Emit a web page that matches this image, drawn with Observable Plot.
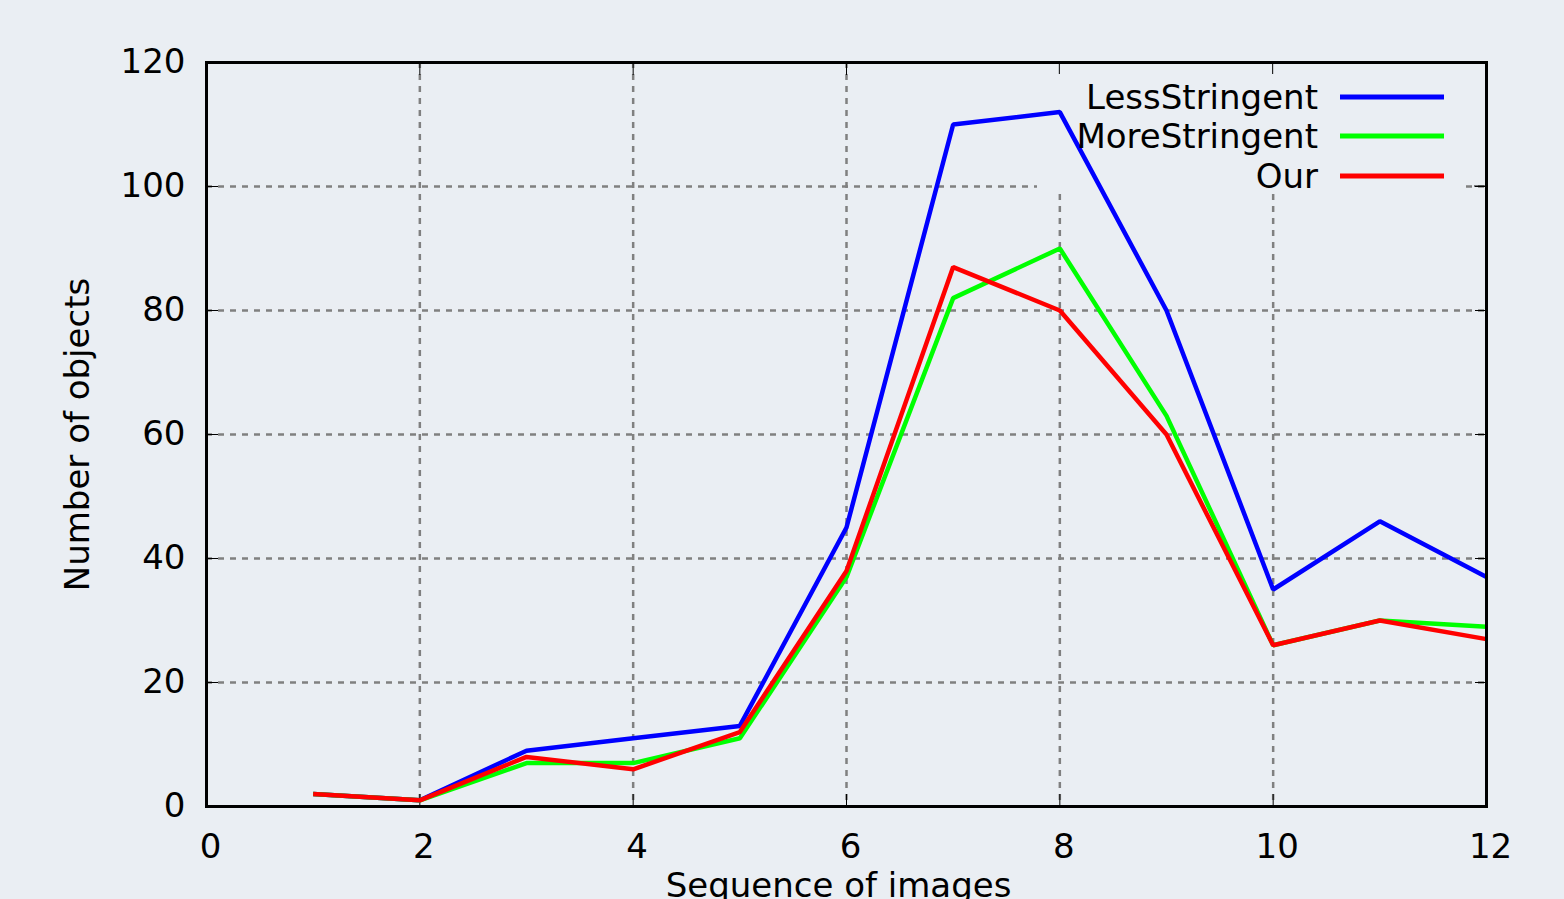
<!DOCTYPE html>
<html>
<head>
<meta charset="utf-8">
<script src="https://cdn.jsdelivr.net/npm/d3@7"></script>
<script src="https://cdn.jsdelivr.net/npm/@observablehq/plot@0.6"></script>
<style>
  html, body { margin: 0; padding: 0; background: #eaeef3; }
  #chart svg { display: block; }
</style>
</head>
<body>
<div id="chart"></div>
<script>
const seriesNames = ["LessStringent", "MoreStringent", "Our"];
const seriesColors = ["#0000ff", "#00ff00", "#ff0000"];
const images = [1, 2, 3, 4, 5, 6, 7, 8, 9, 10, 11, 12];
const lessStringent = [2, 1, 9, 11, 13, 45, 110, 112, 80, 35, 46, 37];
const moreStringent = [2, 1, 7, 7, 11, 37, 82, 90, 63, 26, 30, 29];
const our = [2, 1, 8, 6, 12, 38, 87, 80, 60, 26, 30, 27];
const xTicks = [0, 2, 4, 6, 8, 10, 12];
const yTicks = [0, 20, 40, 60, 80, 100, 120];
const xLabel = "Sequence of images";
const yLabel = "Number of objects";

const seriesValues = [lessStringent, moreStringent, our];
const data = seriesNames.flatMap((name, i) =>
  images.map((x, j) => ({ series: name, x, y: seriesValues[i][j] }))
);

const W = 1564, H = 899;
const mL = 206, mR = 78, mT = 62, mB = 93;
const font = "DejaVu Sans, sans-serif";
const fs = 34;

const plot = Plot.plot({
  width: W,
  height: H,
  marginLeft: mL,
  marginRight: mR,
  marginTop: mT,
  marginBottom: mB,
  style: { background: "#eaeef3", fontFamily: font, fontSize: fs + "px", color: "black" },
  x: { domain: [0, 12] },
  y: { domain: [0, 120] },
  color: { domain: seriesNames, range: seriesColors },
  marks: [
    Plot.ruleX(xTicks.filter(d => d > 0 && d < 12), { stroke: "#808080", strokeWidth: 2.5, strokeDasharray: "6,6" }),
    Plot.ruleY(yTicks.filter(d => d > 0 && d < 120), { stroke: "#808080", strokeWidth: 2.5, strokeDasharray: "6,6" }),
    // inward tick marks (mirror on all sides)
    Plot.axisX({ anchor: "bottom", ticks: xTicks, tickSize: -12, text: null, label: null, stroke: "black", strokeWidth: 1 }),
    Plot.axisX({ anchor: "top", ticks: xTicks, tickSize: -12, text: null, label: null, stroke: "black", strokeWidth: 1 }),
    Plot.axisY({ anchor: "left", ticks: yTicks, tickSize: -12, text: null, label: null, stroke: "black", strokeWidth: 1 }),
    Plot.axisY({ anchor: "right", ticks: yTicks, tickSize: -12, text: null, label: null, stroke: "black", strokeWidth: 1 }),
    // tick labels
    Plot.axisX({ anchor: "bottom", ticks: xTicks, tickSize: 0, tickPadding: 27, dx: 4, label: null, fontSize: fs, tickFormat: d => String(d) }),
    Plot.axisY({ anchor: "left", ticks: yTicks, tickSize: 0, tickPadding: 21, label: null, fontSize: fs, tickFormat: d => String(d) }),
    Plot.line(data, { x: "x", y: "y", z: "series", stroke: "series", strokeWidth: 4.5, strokeLinejoin: "miter", strokeLinecap: "butt" }),
    Plot.frame({ stroke: "black", strokeWidth: 3 }),
    Plot.text([xLabel], { frameAnchor: "bottom", dx: -8, dy: 80, fontSize: fs, lineAnchor: "middle", textAnchor: "middle", fill: "black" }),
    Plot.text([yLabel], { frameAnchor: "left", dx: -128, rotate: -90, fontSize: fs, lineAnchor: "middle", textAnchor: "middle", fill: "black" })
  ]
});

document.getElementById("chart").appendChild(plot);

// Legend (gnuplot-style key at top right), with an opaque box hiding the grid beneath it
const svg = d3.select(plot);
const firstLine = plot.querySelector('g[aria-label="line"]');
const box = document.createElementNS("http://www.w3.org/2000/svg", "rect");
box.setAttribute("x", 1037);
box.setAttribute("y", mT + 2);
box.setAttribute("width", 1462 - 1037);
box.setAttribute("height", 194 - mT - 2);
box.setAttribute("fill", "#eaeef3");
firstLine.parentNode.insertBefore(box, firstLine);
// redraw inward ticks that lie within the legend box (top x ticks & right y ticks)
const xs = d3.scaleLinear().domain([0, 12]).range([mL, W - mR]);
const ys = d3.scaleLinear().domain([0, 120]).range([H - mB, mT]);
const tg = document.createElementNS("http://www.w3.org/2000/svg", "g");
firstLine.parentNode.insertBefore(tg, firstLine);
const tsel = d3.select(tg);
xTicks.forEach(t => {
  const px = xs(t);
  if (px > 1037 && px < 1462) tsel.append("line").attr("x1", px).attr("x2", px).attr("y1", mT).attr("y2", mT + 12).attr("stroke", "black").attr("stroke-width", 1);
});
yTicks.forEach(t => {
  const py = ys(t);
  if (py > mT && py < 194) tsel.append("line").attr("x1", W - mR).attr("x2", W - mR - 12).attr("y1", py).attr("y2", py).attr("stroke", "black").attr("stroke-width", 1);
});

const leg = svg.append("g").attr("font-family", font).attr("font-size", fs);
const legY = [97, 136, 176];
seriesNames.forEach((name, i) => {
  leg.append("text").attr("x", 1318).attr("y", legY[i]).attr("text-anchor", "end")
    .attr("dy", "0.35em").attr("fill", "black").text(name);
  leg.append("line").attr("x1", 1340).attr("x2", 1444).attr("y1", legY[i]).attr("y2", legY[i])
    .attr("stroke", seriesColors[i]).attr("stroke-width", 5);
});
</script>
</body>
</html>
